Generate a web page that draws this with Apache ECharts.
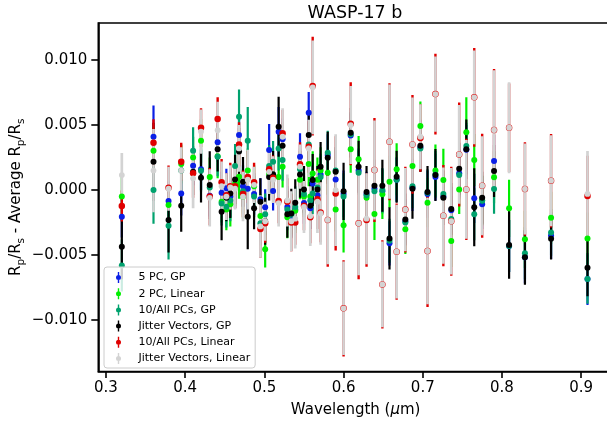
<!DOCTYPE html>
<html><head><meta charset="utf-8">
<script src="https://cdn.jsdelivr.net/npm/echarts@6/dist/echarts.min.js"></script>
<style>html,body{margin:0;padding:0;background:#fff;overflow:hidden}#c{width:607px;height:424px}</style>
</head><body><div id="c"></div>
<script>
const wavelength = [0.320,0.360,0.379,0.395,0.410,0.420,0.431,0.441,0.446,0.452,0.457,0.463,0.468,0.473,0.479,0.487,0.495,0.501,0.506,0.511,0.518,0.523,0.529,0.534,0.539,0.545,0.550,0.556,0.558,0.561,0.567,0.571,0.580,0.590,0.600,0.609,0.619,0.629,0.639,0.649,0.658,0.667,0.678,0.687,0.697,0.706,0.716,0.726,0.736,0.746,0.755,0.765,0.775,0.790,0.809,0.829,0.862,0.908];

const pc5GP = [-0.00205,0.0041,-0.00085,-0.00026,0.00187,0.0016,-0.00044,0.00367,-0.0002,0.00013,-0.0005,0.0002,0.00423,0.0003,0.0001,-0.0003,-0.0007,-0.00133,0.00308,-0.00008,0.00449,0.0039,-0.0013,-0.00213,-0.0015,0.00256,-0.001,0.00595,-0.0014,0.0005,-0.0004,0.0012,0.0027,0.00082,-0.0003,0.0042,0.0015,-0.0003,0.0001,-0.0001,-0.0041,0.0008,-0.0024,0.00018,0.0033,-0.0003,0.001,-0.0005,-0.00155,0.0013,0.0031,-0.00064,-0.0011,0.00223,-0.0043,-0.00518,-0.0035,-0.00685];
const pc5GPErr = [0.0016,0.0024,0.0015,0.0017,0.0015,0.0016,0.0016,0.0015,0.0016,0.0015,0.0016,0.0016,0.0016,0.0016,0.0016,0.0016,0.0016,0.0014,0.002,0.0015,0.0019,0.0016,0.0016,0.0015,0.0016,0.0018,0.0016,0.0016,0.0016,0.0016,0.0016,0.0016,0.0016,0.0017,0.0018,0.0017,0.0017,0.0017,0.0017,0.0017,0.0017,0.0017,0.0017,0.0018,0.0018,0.0018,0.0018,0.0018,0.0018,0.0018,0.0019,0.0019,0.0019,0.002,0.002,0.002,0.0018,0.002];

const pc2Lin = [-0.0005,0.00303,-0.00115,0.002,0.0025,0.00379,0.001,0.0026,-0.0009,-0.0015,-0.0011,0.0005,0.00102,-0.0005,0.0015,0.0003,-0.002,-0.00456,0.00123,0.001,0.001,0.0018,-0.0021,-0.0018,-0.0016,0.0008,-0.0005,0.002,-0.0005,0.00128,0.0008,0.0015,0.00133,-0.00149,-0.0027,0.00313,0.00236,-0.0006,-0.00185,-0.00033,0.00064,0.0016,-0.00302,0.00185,0.00492,-0.00097,0.0015,0.00077,-0.00392,0.00005,0.00444,0.00231,-0.0008,0.00098,-0.00141,-0.00379,-0.00213,-0.00372];
const pc2LinErr = [0.0018,0.0018,0.0015,0.0015,0.0016,0.0017,0.0015,0.0017,0.0016,0.0016,0.0017,0.0017,0.0017,0.0017,0.0017,0.0016,0.0017,0.0014,0.0016,0.0016,0.0016,0.0016,0.0016,0.0016,0.0017,0.0015,0.0016,0.0017,0.0016,0.0017,0.0017,0.0018,0.0017,0.0017,0.0021,0.0018,0.0018,0.0018,0.002,0.0019,0.002,0.002,0.0019,0.0019,0.0019,0.0019,0.002,0.0024,0.002,0.0019,0.0027,0.002,0.0019,0.002,0.0022,0.0022,0.002,0.002];

const pc10GP = [-0.0058,0.0,-0.00274,0.0015,0.00303,0.00149,0.0002,0.00256,-0.00103,-0.00128,-0.0008,0.00185,0.00564,-0.0001,0.00379,-0.0005,-0.00256,-0.00187,0.00185,0.00218,0.0032,0.00231,-0.0015,-0.0019,-0.0013,0.0016,-0.0003,0.0035,-0.0008,-0.00026,0.0002,0.001,0.00287,0.0015,-0.0005,0.0043,0.00133,-0.0004,-0.0001,0.0,-0.0039,0.0008,-0.0025,0.0003,0.0032,-0.0002,0.0012,-0.00031,-0.00223,0.00115,0.00338,-0.00187,-0.0008,0.00008,-0.0043,-0.00487,-0.00326,-0.00685];
const pc10GPErr = [0.002,0.0026,0.0026,0.0016,0.0018,0.0016,0.0016,0.0015,0.0017,0.0016,0.0016,0.0017,0.0021,0.0017,0.0026,0.0016,0.0017,0.0016,0.0016,0.0016,0.0017,0.0016,0.0016,0.0016,0.0016,0.0016,0.0016,0.0017,0.0016,0.0016,0.0016,0.0016,0.0017,0.0017,0.0018,0.0017,0.0017,0.0017,0.0017,0.0017,0.0017,0.0017,0.0017,0.0017,0.0018,0.0018,0.0018,0.0018,0.0018,0.0018,0.0018,0.002,0.0019,0.0019,0.002,0.002,0.0018,0.0019];

const jitGP = [-0.00436,0.00218,-0.0023,-0.0012,0.00141,0.00095,0.00038,0.00313,-0.00167,-0.0006,-0.00026,0.00082,0.00297,0.00064,-0.00205,-0.00141,-0.0009,-0.0024,0.001,0.00121,0.00487,0.00341,-0.00187,-0.0018,-0.00097,0.0012,0.00005,0.00423,-0.0012,0.00077,0.00005,0.0018,0.00249,0.00141,-0.0001,0.00441,0.0018,-0.00015,0.00033,0.00033,-0.00372,0.00102,-0.00226,0.0001,0.00341,-0.00015,0.00115,-0.00059,-0.00146,0.00164,0.00313,-0.00133,-0.00059,0.00146,-0.00423,-0.00518,-0.00374,-0.00597];
const jitGPErr = [0.0025,0.003,0.0025,0.002,0.0018,0.0019,0.0026,0.0017,0.0022,0.0018,0.0019,0.0019,0.0018,0.0019,0.0025,0.0016,0.0018,0.0018,0.0018,0.0018,0.0023,0.0018,0.0018,0.0019,0.0018,0.0018,0.0018,0.0019,0.0018,0.002,0.0018,0.0019,0.002,0.0019,0.0022,0.0019,0.002,0.002,0.002,0.002,0.0024,0.002,0.002,0.0023,0.002,0.002,0.002,0.0021,0.002,0.002,0.0023,0.003,0.002,0.002,0.0026,0.0021,0.0016,0.0022];

const pc10Lin = [-0.00123,0.00364,0.00018,0.00218,0.0013,0.00479,-0.0005,0.00546,0.00059,-0.0004,0.0003,0.0003,0.00351,-0.0003,0.001,0.00059,-0.003,-0.00256,0.00159,0.00095,-0.00085,0.00436,-0.0009,-0.0025,-0.0025,0.00198,-0.0012,0.00333,-0.0021,0.008,-0.0007,-0.00172,-0.0023,-0.00026,-0.0091,0.0051,-0.00256,-0.0023,0.00154,-0.00726,0.00372,-0.00474,-0.0015,0.00351,0.004,-0.00469,0.00738,-0.00197,-0.0024,0.00274,0.00005,0.00713,0.00033,0.00462,0.00479,0.00008,0.00072,-0.00046];
const pc10LinErr = [0.0012,0.0018,0.0017,0.00146,0.0019,0.0015,0.0022,0.00167,0.0018,0.0017,0.0018,0.0017,0.0017,0.0018,0.002,0.0015,0.0022,0.0015,0.0016,0.0017,0.0017,0.0018,0.0018,0.0022,0.0017,0.0017,0.0019,0.002,0.002,0.0038,0.0023,0.0023,0.0036,0.0044,0.0037,0.0032,0.0043,0.0036,0.004,0.0034,0.0045,0.0037,0.0033,0.0038,0.0026,0.0043,0.0031,0.0039,0.0042,0.004,0.0039,0.0038,0.004,0.0047,0.0034,0.0036,0.0036,0.0031];

const jitLin = [0.00115,0.0015,0.0001,0.0015,0.0009,0.0045,-0.0006,0.0046,0.0003,-0.0005,0.0002,0.0001,0.0032,-0.0005,0.0008,0.0004,-0.0028,-0.0024,0.0014,0.0008,-0.001,0.0041,-0.0008,-0.0024,-0.0022,0.0018,-0.0013,0.0032,-0.002,0.0079,-0.0009,-0.0018,-0.0023,0.0,-0.0091,0.005,-0.00256,-0.0022,0.00154,-0.00726,0.00372,-0.00474,-0.0015,0.00351,0.0041,-0.00469,0.00738,-0.00197,-0.0024,0.00274,0.00005,0.00713,0.00033,0.00462,0.00479,0.00008,0.00072,-0.0003];
const jitLinErr = [0.0017,0.0032,0.0017,0.0018,0.0023,0.0017,0.0022,0.0022,0.0019,0.0018,0.0017,0.0016,0.0018,0.0019,0.0023,0.0014,0.0024,0.0015,0.0017,0.0018,0.0018,0.0022,0.002,0.0023,0.0023,0.0017,0.002,0.0022,0.0023,0.0036,0.0024,0.0024,0.0034,0.0043,0.0036,0.003,0.004,0.0035,0.0038,0.0033,0.0044,0.0036,0.0032,0.0036,0.0025,0.0041,0.0029,0.0037,0.0041,0.0038,0.0038,0.0036,0.0038,0.0046,0.0035,0.0035,0.0035,0.0033];

const seriesNames = ['5 PC, GP','2 PC, Linear','10/All PCs, GP','Jitter Vectors, GP','10/All PCs, Linear','Jitter Vectors, Linear'];
const xTicks = [0.3,0.4,0.5,0.6,0.7,0.8,0.9];
const yTicks = [-0.010,-0.005,0.0,0.005,0.010];

const sets = [
  {name: seriesNames[0], v: pc5GP, e: pc5GPErr, color: '#0a1fe6', lw: 2.2, size: 6},
  {name: seriesNames[1], v: pc2Lin, e: pc2LinErr, color: '#00ee00', lw: 2.2, size: 6},
  {name: seriesNames[2], v: pc10GP, e: pc10GPErr, color: '#00a26e', lw: 2.2, size: 6},
  {name: seriesNames[3], v: jitGP, e: jitGPErr, color: '#000000', lw: 2.2, size: 6},
  {name: seriesNames[4], v: pc10Lin, e: pc10LinErr, color: '#e00000', lw: 2.4, size: 6.5},
  {name: seriesNames[5], v: jitLin, e: jitLinErr, color: '#d3d3d3', lw: 2.7, size: 5.8}
];

const FONT = 'DejaVu Sans';
const series = [];
sets.forEach(s => {
  series.push({
    type: 'custom', name: s.name + ' err', z: 2, clip: true, silent: true,
    encode: {x: 0, y: 1},
    data: wavelength.map((w, i) => [w, s.v[i], s.e[i]]),
    renderItem: (params, api) => {
      const x = api.value(0), y = api.value(1), e = api.value(2);
      const p1 = api.coord([x, y - e]), p2 = api.coord([x, y + e]);
      return {type: 'line', shape: {x1: p1[0], y1: p1[1], x2: p2[0], y2: p2[1]},
        style: {stroke: s.color, lineWidth: s.lw}};
    }
  });
});
sets.forEach(s => {
  series.push({
    type: 'scatter', name: s.name, z: 3, symbol: 'circle', symbolSize: s.size,
    itemStyle: {color: s.color, opacity: 1},
    data: wavelength.map((w, i) => [w, s.v[i]])
  });
});

const fmtY = v => {
  const t = Math.abs(v).toFixed(3);
  return (v < -1e-9 ? '\u2212' : '') + t;
};

const chart = echarts.init(document.getElementById('c'), null, {renderer: 'canvas'});
chart.setOption({
  animation: false,
  backgroundColor: '#fff',
  textStyle: {fontFamily: FONT},
  grid: {left: 98.3, top: 23, width: 514.7, height: 348.5, show: true, borderColor: '#000', borderWidth: 1.6,
    containLabel: false, outerBoundsMode: 'none'},
  graphic: [{type: 'text', x: 355, y: 13.5, z: 10,
    style: {text: 'WASP-17 b', font: '17.5px "DejaVu Sans"', fill: '#000', align: 'center', verticalAlign: 'middle'}}],
  legend: {
    orient: 'vertical', left: 104, top: 267,
    data: seriesNames,
    icon: 'path://M2.3,0 L3.7,0 L3.7,11 L2.3,11 Z M3,3 A2.5,2.5 0 1 1 3,8 A2.5,2.5 0 1 1 3,3 Z',
    itemWidth: 6, itemHeight: 11, itemGap: 5.2,
    padding: [5, 5, 4, 12],
    borderColor: '#cccccc', borderWidth: 1, borderRadius: 3,
    backgroundColor: 'rgba(255,255,255,0.8)',
    textStyle: {fontFamily: FONT, fontSize: 11, color: '#000', lineHeight: 11, padding: [0, 0, 0, 12]},
    selectedMode: false
  },
  xAxis: {
    type: 'value', min: 0.2903, max: 0.9402,
    name: 'Wavelength ({it|\u03bc}m)', nameLocation: 'middle', nameGap: 31, nameMoveOverlap: false,
    nameTextStyle: {fontFamily: FONT, fontSize: 15, color: '#000',
      rich: {it: {fontFamily: FONT, fontSize: 15, fontStyle: 'italic', color: '#000'}}},
    axisLine: {show: true, onZero: false, lineStyle: {color: '#000', width: 1.6}},
    axisTick: {show: true, inside: false, length: 6.5, lineStyle: {color: '#000', width: 1.6}, customValues: xTicks},
    axisLabel: {show: true, margin: 9, fontFamily: FONT, fontSize: 15, color: '#000', customValues: xTicks,
      formatter: v => v.toFixed(1)},
    splitLine: {show: false}
  },
  yAxis: {
    type: 'value', min: -0.01396, max: 0.01285,
    name: 'R{sub|p}/R{sub|s} - Average R{sub|p}/R{sub|s}', nameLocation: 'middle', nameGap: 72, nameRotate: 90,
    nameMoveOverlap: false,
    nameTextStyle: {fontFamily: FONT, fontSize: 15, color: '#000', lineHeight: 20,
      rich: {sub: {fontFamily: FONT, fontSize: 10.5, color: '#000', lineHeight: 12, verticalAlign: 'bottom'}}},
    axisLine: {show: true, onZero: false, lineStyle: {color: '#000', width: 1.6}},
    axisTick: {show: true, inside: false, length: 7, lineStyle: {color: '#000', width: 1.6}, customValues: yTicks},
    axisLabel: {show: true, margin: 11, fontFamily: FONT, fontSize: 15, color: '#000', customValues: yTicks, formatter: fmtY},
    splitLine: {show: false}
  },
  series: series
});
</script>
</body></html>
